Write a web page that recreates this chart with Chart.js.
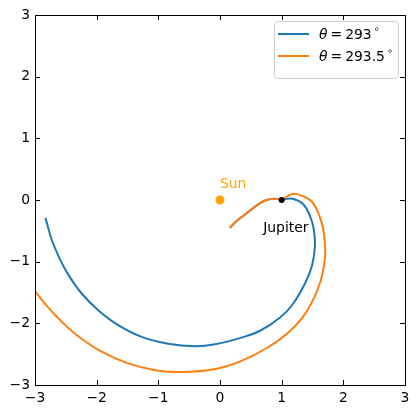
<!DOCTYPE html>
<html>
<head>
<meta charset="utf-8">
<script src="https://cdn.jsdelivr.net/npm/chart.js@4"></script>
<style>
  html, body { margin: 0; padding: 0; background: #fff; }
  #wrap { width: 419px; height: 413px; }
</style>
</head>
<body>
<div id="wrap"><canvas id="orbit"></canvas></div>
<script>
// trajectory theta = 293 deg
const blueX = [-2.83, -2.73, -2.59, -2.46, -2.24, -1.97, -1.65, -1.27, -0.84, -0.41, -0.08, 0.32, 0.65, 0.97, 1.18, 1.38, 1.49, 1.54, 1.52, 1.46, 1.35, 1.18, 1.01, 0.87, 0.76, 0.65, 0.54, 0.41, 0.27, 0.16];
const blueY = [-0.29, -0.64, -0.97, -1.21, -1.52, -1.79, -2.03, -2.22, -2.33, -2.37, -2.34, -2.24, -2.12, -1.91, -1.69, -1.35, -1.07, -0.75, -0.47, -0.26, -0.07, 0.02, 0.01, 0.02, 0.00, -0.05, -0.13, -0.23, -0.34, -0.45];
// trajectory theta = 293.5 deg
const orangeX = [-3.10, -3.00, -2.78, -2.57, -2.30, -1.92, -1.49, -1.05, -0.62, -0.08, 0.32, 0.76, 1.14, 1.41, 1.62, 1.70, 1.70, 1.65, 1.51, 1.35, 1.19, 1.09, 1.01, 0.87, 0.76, 0.65, 0.54, 0.41, 0.27, 0.16];
const orangeY = [-1.36, -1.48, -1.75, -1.97, -2.21, -2.46, -2.65, -2.76, -2.79, -2.74, -2.62, -2.40, -2.12, -1.80, -1.35, -0.96, -0.70, -0.37, -0.05, 0.06, 0.10, 0.06, 0.01, 0.02, 0.00, -0.05, -0.13, -0.23, -0.34, -0.45];
const sunPos = [0, 0];
const jupiterPos = [1, 0];
const axisTicks = [-3, -2, -1, 0, 1, 2, 3];
const legendLabels = ['293', '293.5'];

const BLUE = '#1f77b4', ORANGE = '#ff7f0e', SUN = '#ffa500';
const FONT = '13.9px "DejaVu Sans"';

const toPts = (xs, ys) => xs.map((x, i) => ({ x, y: ys[i] }));
const minus = v => String(v).replace('-', '\u2212');

// frame, inward ticks on all four sides, annotations and legend
const decor = {
  id: 'decor',
  afterDatasetsDraw(chart) {
    const { ctx, chartArea: a, scales: { x, y } } = chart;
    ctx.save();
    ctx.strokeStyle = '#000'; ctx.lineWidth = 1;
    ctx.beginPath();
    axisTicks.forEach(t => {
      const px = Math.round(x.getPixelForValue(t)) + 0.5;
      const py = Math.round(y.getPixelForValue(t)) + 0.5;
      ctx.moveTo(px, a.bottom); ctx.lineTo(px, a.bottom - 5);
      ctx.moveTo(px, a.top); ctx.lineTo(px, a.top + 5);
      ctx.moveTo(a.left, py); ctx.lineTo(a.left + 5, py);
      ctx.moveTo(a.right, py); ctx.lineTo(a.right - 5, py);
    });
    ctx.stroke();
    ctx.strokeRect(Math.round(a.left) + 0.5, Math.round(a.top) + 0.5, Math.round(a.right - a.left), Math.round(a.bottom - a.top));

    // labels
    ctx.font = FONT; ctx.textBaseline = 'alphabetic'; ctx.textAlign = 'left';
    ctx.fillStyle = SUN;
    ctx.fillText('Sun', x.getPixelForValue(0.0), y.getPixelForValue(0.2));
    ctx.fillStyle = '#000';
    ctx.fillText('Jupiter', x.getPixelForValue(0.7), y.getPixelForValue(-0.52));

    // legend
    const bx = 274, by = 21, bw = 124, bh = 57;
    ctx.fillStyle = 'rgba(255,255,255,0.8)';
    ctx.strokeStyle = '#d0d0d0';
    ctx.beginPath(); ctx.roundRect(bx + 0.5, by + 0.5, bw, bh, 3); ctx.fill(); ctx.stroke();
    [[BLUE, legendLabels[0], 34], [ORANGE, legendLabels[1], 56]].forEach(([c, lab, ly]) => {
      ctx.strokeStyle = c; ctx.lineWidth = 2;
      ctx.beginPath(); ctx.moveTo(278, ly); ctx.lineTo(309, ly); ctx.stroke();
      ctx.fillStyle = '#000'; ctx.textBaseline = 'middle';
      let tx = 319;
      ctx.font = 'italic ' + FONT; ctx.fillText('\u03b8', tx, ly + 1);
      tx += ctx.measureText('\u03b8').width + 3;
      ctx.font = FONT; ctx.fillText('=', tx, ly + 1);
      tx += ctx.measureText('=').width + 3;
      ctx.fillText(lab, tx, ly + 1);
      tx += ctx.measureText(lab).width + 2;
      ctx.font = '9.5px "DejaVu Sans"'; ctx.fillText('\u2218', tx, ly - 4);
    });
    ctx.restore();
  }
};

const axisCfg = (fit) => ({
  type: 'linear', min: -3, max: 3,
  afterBuildTicks: s => { s.ticks = axisTicks.map(v => ({ value: v })); },
  afterFit: fit,
  grid: { display: false, drawTicks: false },
  border: { display: false },
  ticks: { color: '#000', font: { family: 'DejaVu Sans', size: 13.9 }, padding: 5, callback: v => minus(v), maxRotation: 0 }
});

new Chart(document.getElementById('orbit'), {
  type: 'scatter',
  data: {
    datasets: [
      { label: '\u03b8 = 293\u00b0', data: toPts(blueX, blueY), showLine: true, borderColor: BLUE, borderWidth: 2, pointRadius: 0, tension: 0.4, order: 2 },
      { label: '\u03b8 = 293.5\u00b0', data: toPts(orangeX, orangeY), showLine: true, borderColor: ORANGE, borderWidth: 2, pointRadius: 0, tension: 0.4, order: 1 },
      { label: 'Sun', data: [{ x: sunPos[0], y: sunPos[1] }], pointRadius: 4.5, backgroundColor: SUN, borderWidth: 0, order: 0 },
      { label: 'Jupiter', data: [{ x: jupiterPos[0], y: jupiterPos[1] }], pointRadius: 3, backgroundColor: '#000', borderWidth: 0, order: 0 }
    ]
  },
  options: {
    responsive: true, maintainAspectRatio: false, animation: false,
    layout: { padding: { top: 15, right: 14, left: 0, bottom: 0 } },
    scales: {
      x: axisCfg(s => { s.height = 28; }),
      y: axisCfg(s => { s.width = 35; })
    },
    plugins: { legend: { display: false }, tooltip: { enabled: false } }
  },
  plugins: [decor]
});
</script>
</body>
</html>
